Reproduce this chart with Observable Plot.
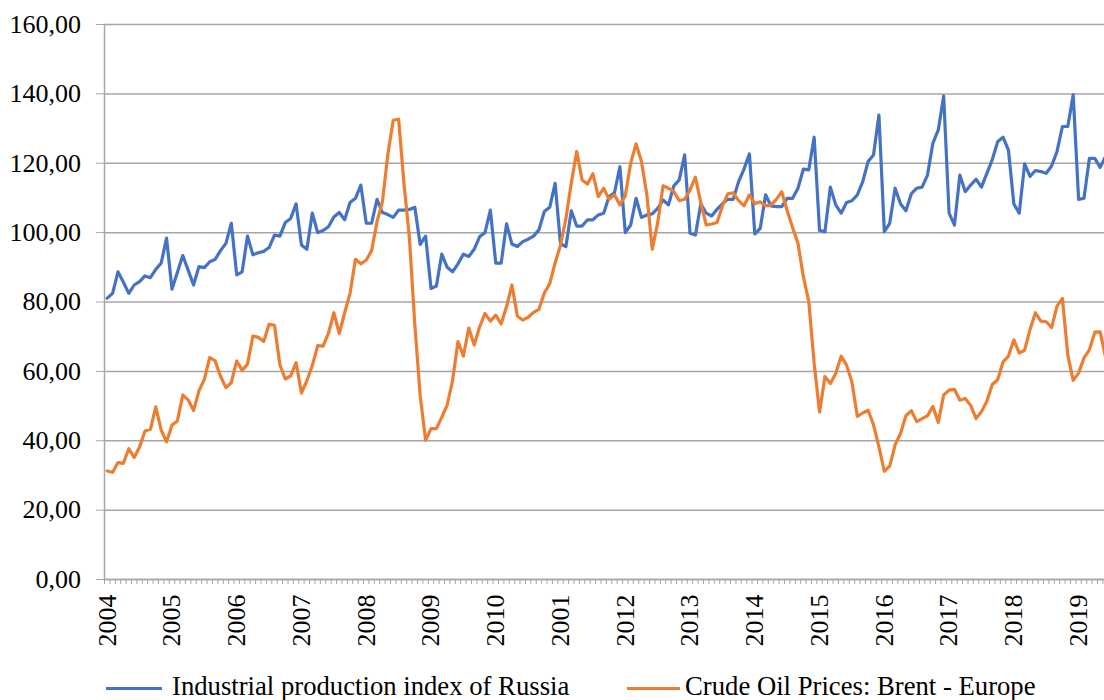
<!DOCTYPE html>
<html>
<head>
<meta charset="utf-8">
<script src="https://cdn.jsdelivr.net/npm/d3@7"></script>
<script src="https://cdn.jsdelivr.net/npm/@observablehq/plot@0.6"></script>
<style>
  html, body { margin: 0; padding: 0; background: #fff; overflow: hidden; }
  #wrap { position: relative; width: 1104px; height: 700px; font-family: "Liberation Serif", "Times New Roman", serif; }
  .leg-line { position: absolute; height: 3.5px; }
  .leg-text { position: absolute; font-size: 26.7px; line-height: 26.7px; color: #000; white-space: nowrap; }
</style>
</head>
<body>
<div id="wrap">
  <div id="chart"></div>
  <div id="legend"></div>
</div>
<script>
// Monthly series, Jan 2004 onward (index 0 = Jan 2004)
const industrialIndex = [
  81.1, 82.5, 88.7, 85.7, 82.5, 84.9, 85.9, 87.5, 87.0, 89.4, 91.2, 98.4,
  83.7, 88.5, 93.4, 89.2, 84.9, 90.2, 89.9, 91.6, 92.3, 94.8, 96.9, 102.7,
  87.8, 88.7, 99.0, 93.6, 94.2, 94.6, 95.7, 99.3, 99.0, 102.9, 104.1, 108.3,
  96.4, 95.2, 105.6, 100.0, 100.6, 101.7, 104.5, 105.8, 103.7, 108.7, 109.9, 113.7,
  102.7, 102.7, 109.6, 105.8, 105.2, 104.4, 106.5, 106.5, 106.7, 107.3, 96.6, 99.0,
  83.9, 84.6, 93.8, 90.0, 88.7, 91.0, 93.8, 93.1, 95.2, 98.8, 100.0, 106.5,
  91.2, 91.2, 102.5, 96.7, 96.0, 97.4, 98.1, 99.0, 100.8, 106.1, 107.3, 114.2,
  96.7, 96.0, 106.3, 101.9, 101.9, 103.7, 103.7, 105.1, 105.6, 110.4, 111.5, 119.0,
  100.0, 102.2, 109.9, 104.4, 105.1, 105.4, 107.0, 109.4, 108.0, 113.5, 115.2, 122.4,
  99.8, 99.3, 108.3, 105.6, 104.8, 106.7, 108.3, 109.6, 109.6, 114.7, 118.3, 122.7,
  99.6, 101.2, 110.9, 107.7, 107.5, 107.5, 109.9, 109.9, 112.8, 118.3, 118.1, 127.5,
  100.6, 100.3, 113.1, 108.0, 105.6, 108.7, 109.2, 110.9, 114.7, 120.5, 122.4, 133.9,
  100.3, 102.7, 112.8, 108.3, 106.3, 111.2, 112.8, 113.1, 116.6, 125.8, 129.6, 139.4,
  105.6, 102.2, 116.6, 111.8, 113.7, 115.4, 113.1, 117.1, 121.0, 126.2, 127.5, 123.8,
  108.3, 105.6, 119.8, 116.2, 117.9, 117.6, 117.1, 119.2, 123.4, 130.6, 130.6, 139.7,
  109.6, 109.9, 121.4, 121.4, 118.8, 122.0
];
const brentPrice = [
  31.3, 30.9, 33.7, 33.5, 37.7, 35.2, 38.2, 42.8, 43.3, 49.8, 43.1, 39.7,
  44.5, 45.7, 53.2, 51.8, 48.7, 54.4, 57.7, 64.0, 63.0, 58.6, 55.3, 56.8,
  63.0, 60.3, 62.1, 70.2, 69.8, 68.6, 73.6, 73.3, 61.9, 57.8, 58.7, 62.5,
  53.7, 57.3, 61.6, 67.4, 67.3, 71.0, 76.9, 70.9, 76.9, 82.5, 92.3, 91.0,
  92.1, 94.8, 103.2, 108.9, 122.5, 132.4, 132.7, 114.0, 98.5, 73.5, 53.0, 40.1,
  43.5, 43.5, 46.8, 50.3, 57.4, 68.6, 64.4, 72.5, 67.6, 72.8, 76.7, 74.5,
  76.2, 73.7, 78.7, 84.9, 75.9, 74.8, 75.6, 77.0, 77.9, 82.6, 85.3, 91.3,
  96.4, 104.0, 114.4, 123.4, 115.2, 114.0, 117.0, 110.4, 112.8, 109.6, 110.9, 108.0,
  110.6, 120.0, 125.6, 120.5, 110.9, 95.2, 102.8, 113.5, 112.8, 111.8, 109.2, 109.6,
  112.3, 116.0, 108.5, 102.2, 102.5, 102.9, 107.7, 111.2, 111.5, 109.2, 107.7, 110.9,
  108.3, 108.9, 107.7, 108.0, 109.6, 111.8, 106.3, 101.5, 96.9, 87.3, 80.1, 62.3,
  48.3, 58.5, 56.5, 59.4, 64.4, 61.8, 56.9, 47.0, 48.0, 48.8, 44.6, 38.2,
  31.2, 32.7, 38.8, 42.1, 47.2, 48.7, 45.5, 46.4, 47.2, 49.9, 45.3, 53.2,
  54.6, 54.8, 51.7, 52.2, 50.2, 46.4, 48.4, 51.4, 56.2, 57.6, 62.7, 64.4,
  69.1, 65.3, 66.1, 72.1, 76.9, 74.5, 74.3, 72.6, 78.8, 81.0, 64.7, 57.4,
  59.5, 63.9, 66.2, 71.3, 71.4, 64.0
];
// Year labels as printed on the axis (one per January)
const yearLabels = ["2004","2005","2006","2007","2008","2009","2010","2001",
  "2012","2013","2014","2015","2016","2017","2018","2019"];
const yTicks = [0, 20, 40, 60, 80, 100, 120, 140, 160];
const seriesNames = ["Industrial production index of Russia", "Crude Oil Prices: Brent - Europe"];
const seriesColors = ["#4472C4", "#ED7D31"];

const gray = "#a6a6a6";
const janIdx = yearLabels.map((_, i) => i * 12);
const boundaries = d3.range(-0.5, 185, 1);

const chart = Plot.plot({
  width: 1104,
  height: 660,
  marginLeft: 104,
  marginRight: 0,
  marginTop: 24,
  marginBottom: 81,
  style: { fontFamily: "'Liberation Serif', 'Times New Roman', serif", fontSize: "26px", color: "#000", background: "#fff", overflow: "visible" },
  x: { type: "linear", domain: [-0.5, 184.8] },
  y: { domain: [0, 160] },
  marks: [
    Plot.gridY(yTicks, { stroke: gray, strokeOpacity: 1, strokeWidth: 1.5 }),
    Plot.axisY(yTicks, {
      tickSize: 8, tickPadding: 15.5, stroke: gray, fill: "#000", fontSize: 26,
      tickFormat: d => d.toFixed(2).replace(".", ","), label: null
    }),
    Plot.axisX(boundaries, { tickSize: 5, stroke: gray, tickFormat: () => "", label: null }),
    Plot.axisX(janIdx, {
      tickSize: 0, tickPadding: 15, tickRotate: -90, fill: "#000", fontSize: 26,
      tickFormat: d => yearLabels[d / 12], label: null
    }),
    Plot.ruleX([-0.5], { stroke: gray, strokeWidth: 1.5, y1: 0, y2: 160 }),
    Plot.ruleY([0], { stroke: gray, strokeWidth: 1.5 }),
    Plot.lineY(industrialIndex, { stroke: seriesColors[0], strokeWidth: 3.2, strokeLinejoin: "round", clip: true }),
    Plot.lineY(brentPrice, { stroke: seriesColors[1], strokeWidth: 3.2, strokeLinejoin: "round", clip: true })
  ]
});
document.getElementById("chart").appendChild(chart);

// Legend (HTML, below the SVG)
const legend = document.getElementById("legend");
const legPos = [{ line: [106, 162], text: 172 }, { line: [627, 680], text: 685 }];
seriesNames.forEach((name, i) => {
  const ln = document.createElement("div");
  ln.className = "leg-line";
  ln.style.left = legPos[i].line[0] + "px";
  ln.style.width = (legPos[i].line[1] - legPos[i].line[0]) + "px";
  ln.style.top = "686.5px";
  ln.style.background = seriesColors[i];
  legend.appendChild(ln);
  const tx = document.createElement("div");
  tx.className = "leg-text";
  tx.style.left = legPos[i].text + "px";
  tx.style.top = "672.6px";
  tx.textContent = name;
  legend.appendChild(tx);
});
</script>
</body>
</html>
